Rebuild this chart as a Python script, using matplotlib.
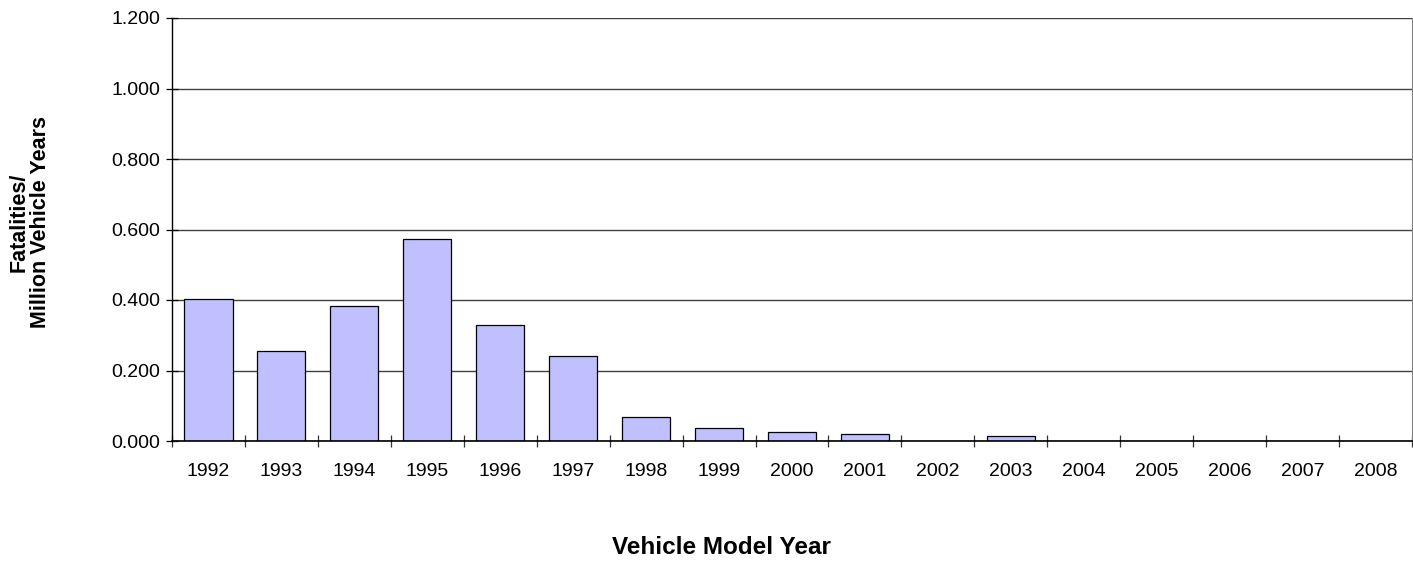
import matplotlib
matplotlib.use("Agg")
import matplotlib.pyplot as plt
import numpy as np

plt.rcParams['font.family'] = ['Liberation Sans', 'DejaVu Sans']

years = ["1992", "1993", "1994", "1995", "1996", "1997", "1998", "1999", "2000",
         "2001", "2002", "2003", "2004", "2005", "2006", "2007", "2008"]
rates = [0.402, 0.254, 0.382, 0.572, 0.328, 0.242, 0.069, 0.037, 0.026,
         0.020, 0.0, 0.014, 0.0, 0.0, 0.0, 0.0, 0.0]
yticks = [0.0, 0.2, 0.4, 0.6, 0.8, 1.0, 1.2]

W, H = 1413, 561
fig = plt.figure(figsize=(W / 100, H / 100), dpi=100)
ax = fig.add_axes([172 / W, (H - 441) / H, 1240 / W, 423 / H])

x = np.arange(len(years))
vals = np.array(rates)
mask = vals > 0
ax.bar(x[mask], vals[mask], width=0.66, color='#C0C0FF', edgecolor='black',
       linewidth=0.9, zorder=3)

ax.set_xlim(-0.5, len(years) - 0.5)
ax.set_ylim(0, 1.2)

ax.set_yticks(yticks)
ax.set_yticklabels([f"{v:.3f}" for v in yticks], fontsize=14)
ax.yaxis.grid(True, color='#404040', linewidth=1.0, zorder=0)
ax.tick_params(axis='y', direction='inout', length=9, width=0.9, pad=4)

ax.set_xticks(x)
ax.set_xticklabels(years, fontsize=14)
ax.tick_params(axis='x', which='major', length=0, pad=16)
ax.set_xticks(np.arange(-0.5, len(years)), minor=True)
ax.tick_params(axis='x', which='minor', direction='inout', length=9, width=0.9, color='#333333')

ax.spines['top'].set_visible(False)
ax.spines['right'].set_color('#808080')
ax.spines['left'].set_linewidth(1.0)
ax.spines['bottom'].set_linewidth(1.2)
ax.spines['bottom'].set_zorder(4)

fig.text(30 / W, (H - 222) / H, "Fatalities/\nMillion Vehicle Years", rotation=90,
         ha='center', va='center', fontsize=15.5, fontweight='bold', linespacing=1.0)
fig.text(721 / W, (H - 548) / H, "Vehicle Model Year", ha='center', va='center',
         fontsize=17.5, fontweight='bold')

fig.savefig("out.png", dpi=100)
